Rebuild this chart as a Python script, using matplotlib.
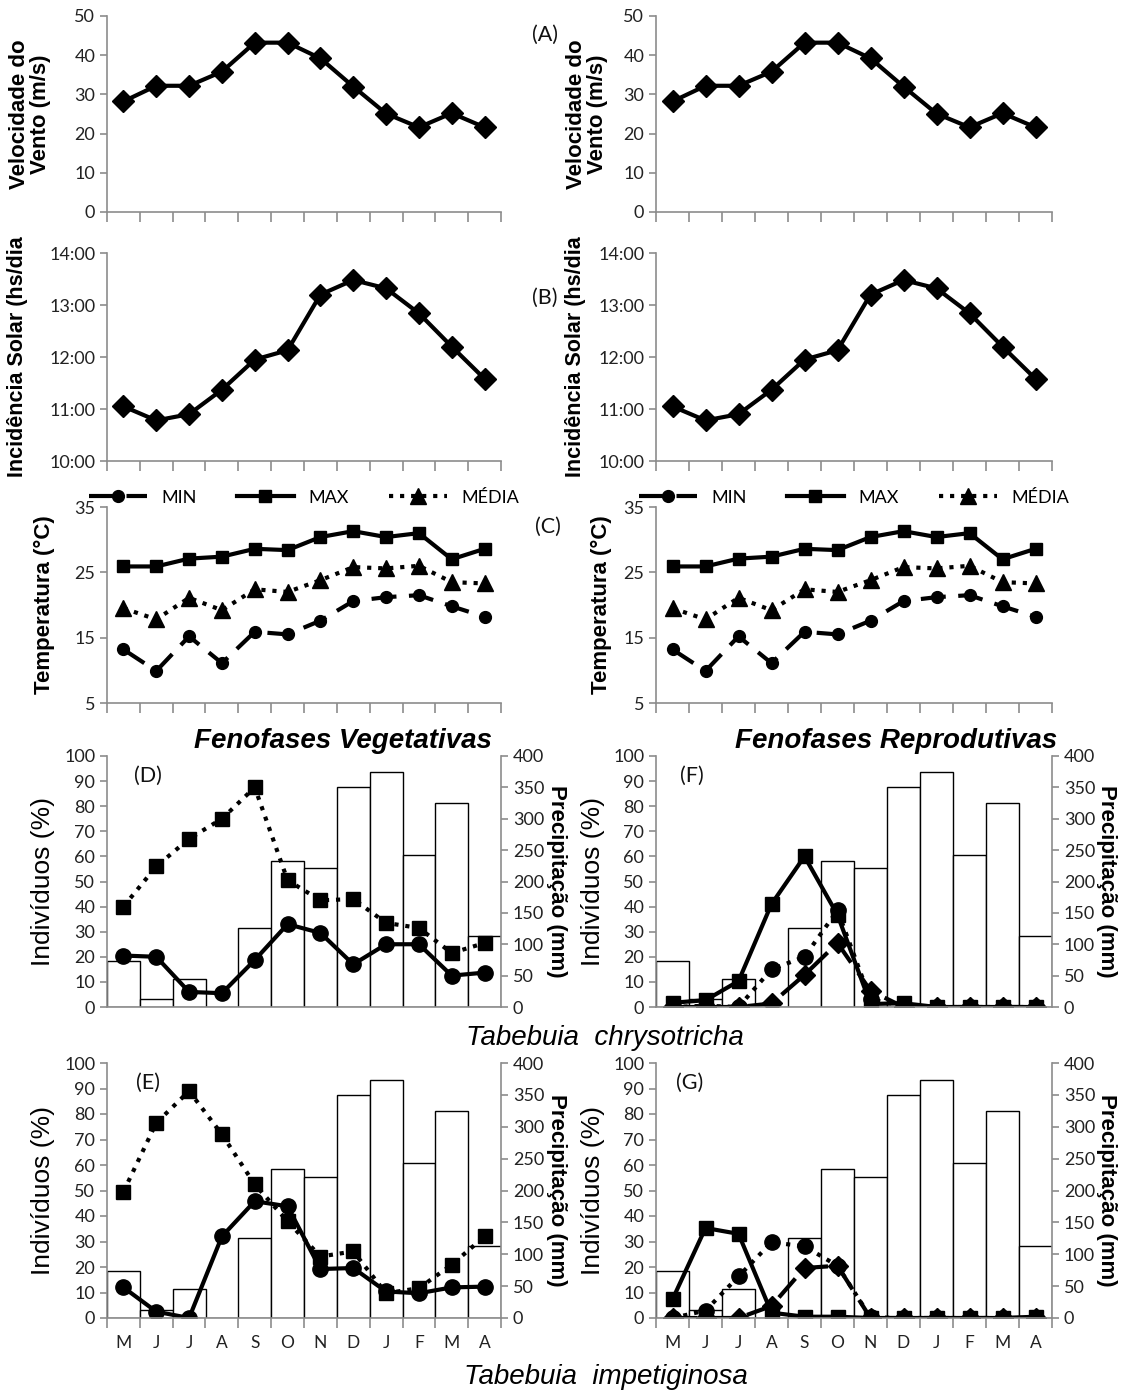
import numpy as np
import matplotlib.pyplot as plt

# dados
meses = ['M', 'J', 'J', 'A', 'S', 'O', 'N', 'D', 'J', 'F', 'M', 'A']
vento = [28.2, 32.2, 32.2, 35.8, 43.2, 43.2, 39.2, 32.0, 25.1, 21.6, 25.2, 21.6]
solar = [11.05, 10.78, 10.90, 11.37, 11.95, 12.13, 13.20, 13.48, 13.32, 12.84, 12.20, 11.58]
t_min = [13.2, 9.9, 15.2, 11.1, 15.9, 15.5, 17.6, 20.6, 21.2, 21.5, 19.8, 18.2]
t_max = [25.9, 25.9, 27.1, 27.4, 28.6, 28.4, 30.4, 31.3, 30.4, 31.0, 27.0, 28.6]
t_media = [19.5, 17.8, 21.1, 19.2, 22.4, 22.0, 23.8, 25.8, 25.6, 26.0, 23.5, 23.3]
precip = [74, 12, 45, 0, 126, 233, 221, 350, 374, 243, 325, 113]

# T. chrysotricha
chry_veg_circ = [20.5, 20.0, 6.0, 5.5, 18.7, 33.0, 29.5, 17.0, 25.0, 25.0, 12.5, 13.7]
chry_veg_quad = [40.0, 56.0, 67.0, 75.0, 87.5, 50.5, 42.5, 43.0, 33.5, 31.5, 21.5, 25.5]
chry_rep_quad = [1.7, 2.7, 10.3, 41.0, 60.0, 36.7, 1.2, 1.5, 0, 0, 0, 0]
chry_rep_circ = [0, 0.5, 0, 15.0, 20.0, 38.5, 3.0, 0.5, 0, 0, 0, 0]
chry_rep_diam = [0, 0, 0, 1.4, 12.8, 25.5, 6.5, 0, 0, 0, 0, 0]

# T. impetiginosa
imp_veg_circ = [12.0, 2.5, 0, 32.0, 45.8, 43.8, 19.2, 19.6, 10.4, 9.7, 12.0, 12.3]
imp_veg_quad = [49.5, 76.5, 89.0, 72.0, 52.4, 37.9, 24.1, 26.1, 9.7, 11.7, 20.9, 32.0]
imp_rep_quad = [7.3, 35.3, 33.0, 2.1, 0.5, 0.5, 0, 0, 0, 0, 0, 0.5]
imp_rep_circ = [0, 2.9, 16.3, 29.7, 28.1, 20.5, 0.3, 0, 0, 0, 0, 0]
imp_rep_diam = [0, 0, 0, 4.7, 19.6, 20.5, 0, 0, 0, 0, 0, 0]

W, H = 1137, 1396
fig = plt.figure(figsize=(W / 100, H / 100), dpi=100)
x = np.arange(12)
CINZA = '#8c8c8c'
FT = 'Lato'
FA = 'Liberation Sans'


def eixo(x0, x1, y0, y1):
    return fig.add_axes([x0 / W, 1 - y1 / H, (x1 - x0) / W, (y1 - y0) / H])


def estilo(ax, rotulos=False, ticks_x=True):
    for s in ['top', 'right']:
        ax.spines[s].set_visible(False)
    for s in ['left', 'bottom']:
        ax.spines[s].set_color(CINZA)
        ax.spines[s].set_linewidth(1.2)
    ax.set_xlim(-0.5, 11.5)
    ax.set_xticks(np.arange(-0.5, 12, 1))
    ax.set_xticklabels([])
    ax.tick_params(axis='x', colors=CINZA, length=7 if ticks_x else 0, width=1.2)
    ax.tick_params(axis='y', colors=CINZA, length=5, width=1.2,
                   labelcolor='#222222', labelsize=13)
    for t in ax.get_yticklabels():
        t.set_family(FT)
    if rotulos:
        ax.set_xticks(x, minor=True)
        ax.set_xticklabels(meses, minor=True, family=FT, fontsize=12.5, color='#222222')
        ax.tick_params(axis='x', which='minor', length=0, pad=12)


def txt(px, py, s, **kw):
    fig.text(px / W, 1 - py / H, s, ha='center', va='center', **kw)


linha = dict(color='black', lw=3)
colunas = [(107, 501, 0), (656, 1052, 557)]

for x0, x1, dx in colunas:
    # (A) vento
    ax = eixo(x0, x1, 16, 212)
    ax.plot(x, vento, marker='D', ms=11, **linha)
    ax.set_ylim(0, 50)
    ax.set_yticks(range(0, 51, 10))
    estilo(ax)
    txt(30 + dx, 114, 'Velocidade do\nVento (m/s)', rotation=90, family=FA,
        fontweight='bold', fontsize=16, linespacing=1.05)

    # (B) incidencia solar
    ax = eixo(x0, x1, 253, 461)
    ax.plot(x, solar, marker='D', ms=11, **linha)
    ax.set_ylim(10, 14)
    ax.set_yticks(range(10, 15))
    ax.set_yticklabels(['%d:00' % h for h in range(10, 15)])
    estilo(ax)
    txt(18 + dx, 357, 'Incidência Solar (hs/dia', rotation=90, family=FA,
        fontweight='bold', fontsize=15.5)

    # (C) temperatura
    ax = eixo(x0, x1, 507, 703)
    ax.plot(x, t_min, marker='o', ms=8.5, dashes=(6, 3), label='MIN', **linha)
    ax.plot(x, t_max, marker='s', ms=9, label='MAX', **linha)
    ax.plot(x, t_media, marker='^', ms=12, ls=':', label='MÉDIA', **linha)
    ax.set_ylim(5, 35)
    ax.set_yticks([5, 15, 25, 35])
    estilo(ax)
    ax.legend(ncol=3, loc='lower center', bbox_to_anchor=(0.5, 0.97), frameon=False,
              handlelength=3.2, columnspacing=2.2, borderaxespad=0,
              prop={'family': FT, 'size': 13})
    txt(44 + dx, 605, 'Temperatura (°C)', rotation=90, family=FA,
        fontweight='bold', fontsize=16)


def fenologia(x0, x1, y0, y1, series, rotulos, lado):
    ax = eixo(x0, x1, y0, y1)
    ax2 = ax.twinx()
    ax2.bar(x, precip, width=1.0, color='white', edgecolor='black', lw=1.0)
    ax2.set_ylim(0, 400)
    ax2.set_yticks(range(0, 401, 50))
    for s in ['top', 'left', 'bottom']:
        ax2.spines[s].set_visible(False)
    ax2.spines['right'].set_color(CINZA)
    ax2.spines['right'].set_linewidth(1.2)
    ax2.tick_params(axis='y', colors=CINZA, length=5, width=1.2,
                    labelcolor='#222222', labelsize=13)
    for t in ax2.get_yticklabels():
        t.set_family(FT)
    ax.set_zorder(ax2.get_zorder() + 1)
    ax.patch.set_visible(False)
    for vals, mk, ms, st in series:
        ax.plot(x, vals, marker=mk, ms=ms, color='black', lw=3, **st)
    ax.set_ylim(0, 100)
    ax.set_yticks(range(0, 101, 10))
    estilo(ax, rotulos=rotulos, ticks_x=rotulos)
    yc = (y0 + y1) / 2
    txt(43 + lado, yc, 'Indivíduos (%)', rotation=90, family=FA, fontsize=19)
    txt(556 + lado, yc, 'Precipitação (mm)', rotation=270, family=FA,
        fontweight='bold', fontsize=16)
    return ax


pont = {'ls': ':'}
trac = {'dashes': (6, 3)}
sol = {}

fenologia(107, 501, 756, 1007,
          [(chry_veg_quad, 's', 9.5, pont), (chry_veg_circ, 'o', 11, sol)], False, 0)
fenologia(656, 1052, 756, 1007,
          [(chry_rep_diam, 'D', 10, trac), (chry_rep_circ, 'o', 11, pont),
           (chry_rep_quad, 's', 10, sol)], False, 550)
fenologia(107, 501, 1063, 1318,
          [(imp_veg_circ, 'o', 11, sol), (imp_veg_quad, 's', 9.5, pont)], True, 0)
fenologia(656, 1052, 1063, 1318,
          [(imp_rep_quad, 's', 9.5, sol), (imp_rep_diam, 'D', 10, trac),
           (imp_rep_circ, 'o', 11, pont)], True, 550)

# rotulos dos paineis
for px, py, s in [(545, 35, '(A)'), (545, 298, '(B)'), (548, 527, '(C)'),
                  (148, 776, '(D)'), (692, 776, '(F)'),
                  (148, 1083, '(E)'), (690, 1083, '(G)')]:
    txt(px, py, s, family=FT, fontsize=15.5, color='#111111')

txt(343, 741, 'Fenofases Vegetativas', family=FA, fontweight='bold',
    style='italic', fontsize=20)
txt(896, 741, 'Fenofases Reprodutivas', family=FA, fontweight='bold',
    style='italic', fontsize=20)
txt(605, 1038, 'Tabebuia  chrysotricha', family=FA, style='italic', fontsize=20)
txt(606, 1377, 'Tabebuia  impetiginosa', family=FA, style='italic', fontsize=20)

fig.savefig('out.png', dpi=100)
